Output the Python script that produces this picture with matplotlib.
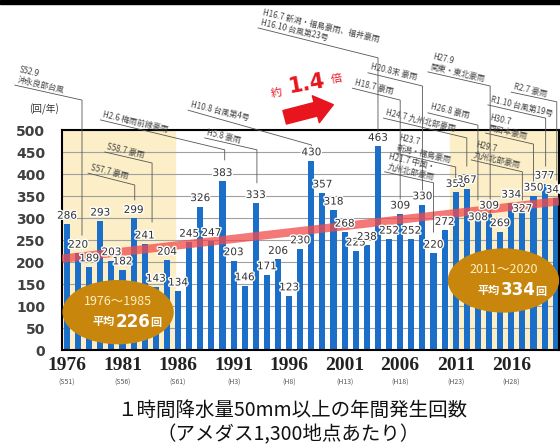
import matplotlib.pyplot as plt
import matplotlib.patheffects as pe
from matplotlib.patches import Ellipse, FancyArrowPatch, Rectangle
import matplotlib.transforms as mtrans
import numpy as np

plt.rcParams['font.family'] = ['Noto Sans CJK JP', 'DejaVu Sans']

# data ---------------------------------------------------------------
years = np.arange(1976, 2021)
counts = [286, 220, 189, 293, 203, 182, 299, 241, 143, 204,
          134, 245, 326, 247, 383, 203, 146, 333, 171, 206,
          123, 230, 430, 357, 318, 268, 225, 238, 463, 252,
          309, 252, 330, 220, 272, 358, 367, 308, 309, 269,
          334, 327, 350, 377, 345]
tick_years = [1976, 1981, 1986, 1991, 1996, 2001, 2006, 2011, 2016]
era_labels = ['(S51)', '(S56)', '(S61)', '(H3)', '(H8)', '(H13)', '(H18)', '(H23)', '(H28)']
periods = [(1976, 1985), (2011, 2020)]
low_label_years = [2013, 2017]   # labels sitting on the bar top

# disaster notes: label, underline start (year, value), underline end, leader bottom value
event_labels = ["S52.9\n沖永良部台風", "S57.7 豪雨", "S58.7 豪雨", "H2.6 梅雨前線豪雨",
                "H5.8 豪雨", "H10.8 台風第4号",
                "H16.7 新潟・福島豪雨、福井豪雨\nH16.10 台風第23号",
                "H18.7 豪雨", "H20.8末 豪雨", "H21.7 中国・\n九州北部豪雨",
                "H23.7\n新潟・福島豪雨", "H24.7 九州北部豪雨", "H26.8 豪雨",
                "H27.9\n関東・東北豪雨", "H29.7\n九州北部豪雨", "H30.7\n西日本豪雨",
                "R1.10 台風第19号", "R2.7 豪雨"]
event_start = [(1971.3, 602), (1977.9, 402), (1979.4, 450), (1979.0, 523),
               (1988.4, 482), (1986.9, 545), (1993.2, 732), (2001.7, 595),
               (2003.1, 630), (2004.6, 405), (2005.5, 448), (2004.5, 527),
               (2008.5, 539), (2008.5, 632), (2012.4, 432), (2013.7, 493),
               (2013.9, 557), (2016.0, 586)]
event_end = [(1977.35, 568), (1982.1, 375), (1983.66, 425), (1990.2, 455),
             (1993.1, 455), (1998.0, 466), (2004.0, 664), (2006.0, 568),
             (2008.0, 600), (2009.0, 380), (2011.0, 416), (2012.0, 482),
             (2013.0, 511), (2014.1, 600), (2017.0, 405), (2018.0, 468),
             (2019.1, 527), (2020.1, 564)]
event_bottom = [261, 341, 291, 432, 380, 459, 489, 341, 359, 268,
                391, 418, 341, 291, 341, 368, 418, 386]

# figure -------------------------------------------------------------
fig = plt.figure(figsize=(5.6, 4.48), dpi=100)
ax = fig.add_axes([62/560, 98/448, 497/560, 220/448])

for a, b in periods:
    ax.axvspan(a - 0.5, b + 0.7, color='#FCEFC7', zorder=0)

ax.set_ylim(0, 500)
ax.set_xlim(1975.55, 2020.3)
ax.set_yticks(np.arange(0, 501, 50))
ax.yaxis.grid(True, color='#A0A0A0', lw=0.8, zorder=1)
ax.set_axisbelow(True)

ax.bar(years, counts, width=0.55, color='#1B6FC8', zorder=2)

# trend line
coef = np.polyfit(years, counts, 1)
xs = np.array([1975.55, 2020.3])
ax.plot(xs, np.polyval(coef, xs), color='#F24B4B', lw=6, alpha=0.75,
        solid_capstyle='butt', zorder=3)

for x, v in zip(years, counts):
    if x in low_label_years:
        yy, va = v - 6, 'center'
    else:
        yy, va = v + 8, 'bottom'
    ax.text(x, yy, str(v), ha='center', va=va, fontsize=7.5,
            color='#333333', family='DejaVu Sans', zorder=6,
            path_effects=[pe.withStroke(linewidth=2, foreground='white')])

for sp in ax.spines.values():
    sp.set_color('black')
    sp.set_linewidth(1.5)

ax.tick_params(axis='both', length=0)
ax.tick_params(axis='y', pad=12, labelsize=10, labelcolor='#404040')
for t in ax.get_yticklabels():
    t.set_fontweight('bold')
    t.set_family('DejaVu Sans')
ax.set_xticks(tick_years)
ax.set_xticklabels([str(y) for y in tick_years], fontsize=14, fontweight='bold',
                   family='Liberation Serif', color='#222222')
ax.tick_params(axis='x', pad=5)

trans = mtrans.blended_transform_factory(ax.transData, ax.transAxes)
for y, lab in zip(tick_years, era_labels):
    ax.text(y, -0.15, lab, transform=trans, ha='center', va='center',
            fontsize=5, color='#555555')

ax.text(-0.036, 1.095, '(回/年)', transform=ax.transAxes, fontsize=7,
        color='#333333', ha='center', va='center')

# period averages
avgs = [np.mean(counts[:10]), np.mean(counts[-10:])]
centers = [(1980.6, 86), (2015.3, 158)]
for (a, b), m, (cx, cy) in zip(periods, avgs, centers):
    ax.add_patch(Ellipse((cx, cy), 9.9, 143, color='#C8860D', zorder=7))
    ax.text(cx, cy + 24, f'{a}～{b}', ha='center', va='center', fontsize=9,
            color='#FFF0C0', zorder=8)
    ax.text(cx - 0.3, cy - 22, '平均', ha='right', va='center', fontsize=8,
            color='white', fontweight='bold', zorder=8)
    ax.text(cx - 0.2, cy - 22, f'{int(m)}', ha='left', va='center', fontsize=12,
            color='white', fontweight='bold', zorder=8, family='DejaVu Sans')
    ax.text(cx + 2.9, cy - 24, '回', ha='left', va='center', fontsize=8,
            color='white', fontweight='bold', zorder=8)

# disaster notes
for lab, s, e, bot in zip(event_labels, event_start, event_end, event_bottom):
    ax.plot([s[0], e[0], e[0]], [s[1], e[1], bot], color='#555555', lw=0.6,
            clip_on=False, zorder=5)
    ax.annotate(lab, xy=s, xytext=(1, 1), textcoords='offset points',
                rotation=-13, rotation_mode='anchor', ha='left', va='bottom',
                fontsize=5.8, color='#444444', linespacing=1.1,
                annotation_clip=False, zorder=5)

# 1.4x arrow
fig.add_artist(FancyArrowPatch((282/560, 1 - 118/448), (336/560, 1 - 104/448),
                               transform=fig.transFigure, color='#E8141E',
                               arrowstyle='simple,head_length=1.3,head_width=2.0,tail_width=1.0',
                               mutation_scale=10))
fig.text(277/560, 1 - 93/448, '約', color='#E8141E', fontsize=8,
         ha='center', va='center', rotation=10)
fig.text(307/560, 1 - 84/448, '1.4', color='#E8141E', fontsize=15,
         fontweight='bold', ha='center', va='center', rotation=10,
         family='DejaVu Sans')
fig.text(337/560, 1 - 79/448, '倍', color='#E8141E', fontsize=8,
         ha='center', va='center', rotation=10)

# top black band
fig.add_artist(Rectangle((0, 1 - 4/448), 1, 4/448, transform=fig.transFigure,
                         color='black'))

fig.text(0.522, 1 - 410/448, '１時間降水量50mm以上の年間発生回数',
         ha='center', va='center', fontsize=14, color='#111111')
fig.text(0.515, 1 - 435/448, '（アメダス1,300地点あたり）',
         ha='center', va='center', fontsize=14, color='#111111')

fig.savefig('out.png', dpi=100)
